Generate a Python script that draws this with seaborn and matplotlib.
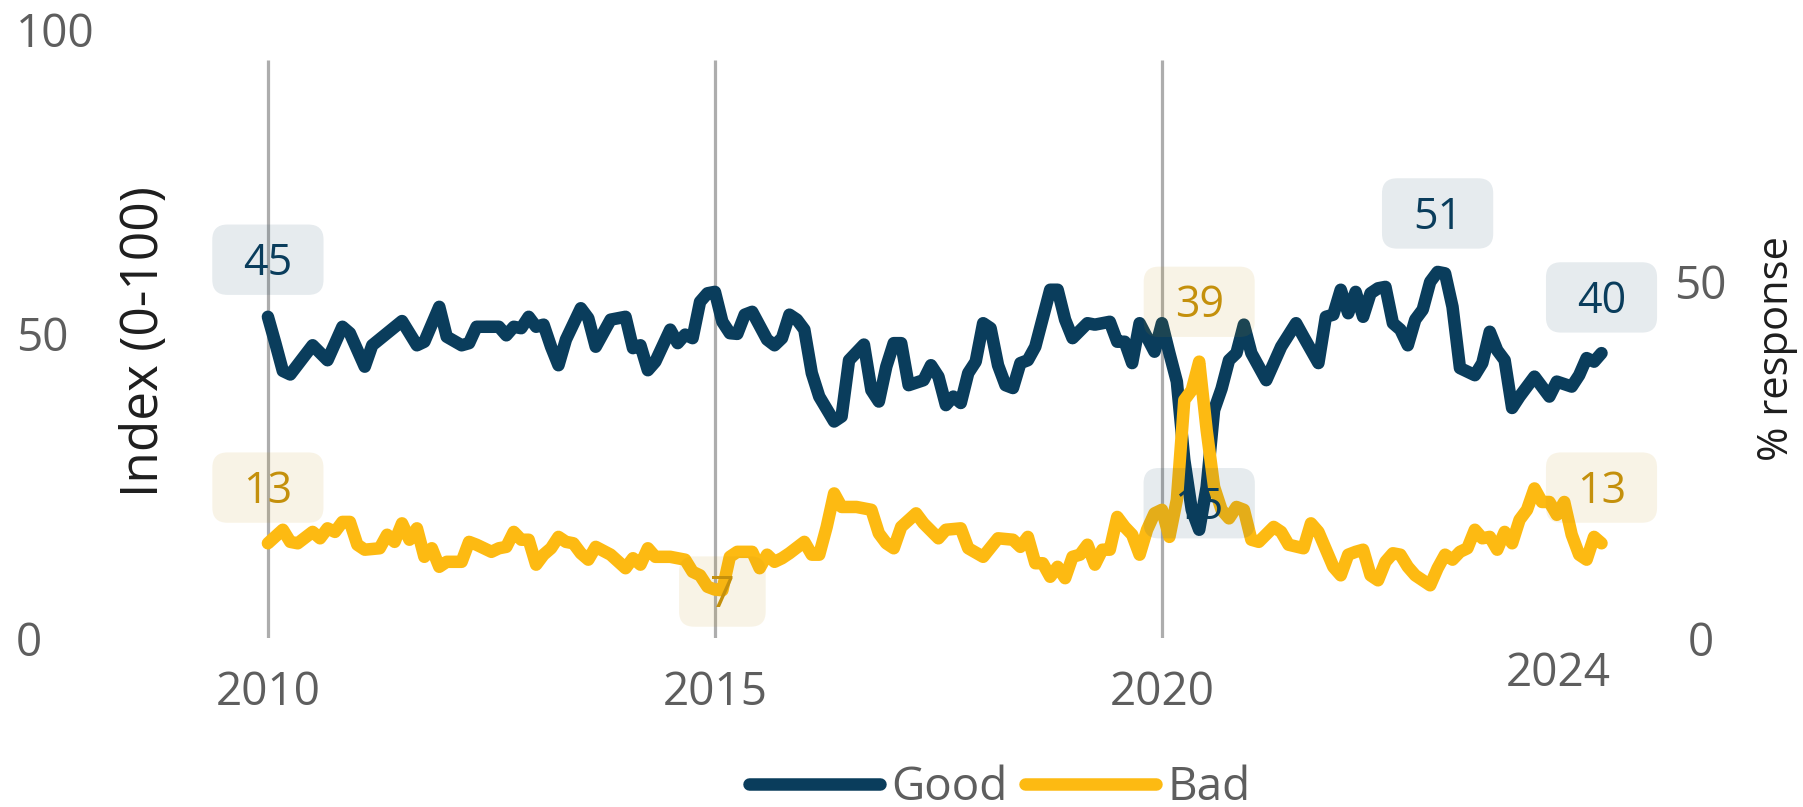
import numpy as np
import pandas as pd
import seaborn as sns
import matplotlib.pyplot as plt
from matplotlib.patches import BoxStyle

# monthly readings, month 0 = January 2010
good_month = [0, 1, 2, 3, 6, 8, 10, 11, 13, 14,
              16, 18, 20, 21, 23, 24, 26, 27, 28, 31,
              32, 33, 34, 35, 36, 37, 38, 39, 40, 42,
              43, 44, 46, 48, 49, 50, 51, 52, 54, 55,
              56, 57, 58, 59, 60, 61, 62, 63, 64, 65,
              67, 68, 69, 70, 71, 72, 73, 74, 76, 77,
              78, 80, 81, 82, 83, 84, 85, 86, 88, 89,
              90, 91, 92, 93, 94, 95, 96, 97, 98, 99,
              100, 101, 102, 103, 105, 106, 107, 108, 110, 111,
              113, 114, 115, 116, 117, 119, 120, 121, 122, 123,
              124, 125, 126, 127, 128, 129, 130, 131, 132, 134,
              136, 138, 139, 141, 142, 143, 144, 145, 146, 147,
              148, 149, 150, 151, 152, 153, 154, 155, 156, 157,
              158, 159, 160, 162, 163, 164, 165, 166, 167, 168,
              170, 172, 173, 175, 176, 177, 178, 179]
good_value = [45.1, 41.4, 37.5, 37.0, 41.1, 39.0, 43.7, 42.8, 38.1, 41.1,
              42.8, 44.5, 41.1, 41.6, 46.5, 42.3, 41.1, 41.4, 43.7, 43.7,
              42.5, 43.7, 43.5, 45.1, 43.7, 44.0, 40.9, 38.3, 41.9, 46.3,
              44.9, 40.9, 44.7, 45.1, 40.7, 41.1, 37.6, 38.8, 43.3, 41.4,
              42.6, 42.1, 47.2, 48.4, 48.6, 44.4, 42.8, 42.7, 45.4, 45.8,
              41.9, 41.1, 42.1, 45.4, 44.7, 43.3, 37.2, 33.9, 30.4, 31.1,
              39.0, 41.2, 34.8, 33.2, 38.1, 41.4, 41.4, 35.5, 36.2, 38.3,
              36.7, 32.7, 33.9, 33.0, 37.2, 38.8, 44.2, 43.5, 38.3, 35.5,
              35.1, 38.6, 39.0, 40.9, 48.9, 48.9, 44.7, 42.1, 44.2, 44.0,
              44.4, 41.6, 41.6, 38.6, 44.2, 40.2, 44.2, 40.0, 36.0, 25.0,
              18.0, 15.2, 21.2, 32.0, 35.0, 39.0, 40.0, 44.0, 40.0, 36.2,
              40.9, 44.2, 42.3, 38.6, 45.1, 45.4, 48.9, 45.6, 48.6, 45.1,
              48.4, 49.1, 49.3, 44.2, 43.3, 41.1, 44.7, 46.1, 50.0, 51.4,
              51.2, 46.5, 37.9, 36.9, 38.6, 43.0, 40.4, 39.0, 32.3, 33.9,
              36.7, 33.9, 36.0, 35.3, 36.9, 39.3, 38.8, 40.0]

bad_month = [0, 2, 3, 4, 6, 7, 8, 9, 10, 11,
             12, 13, 15, 16, 17, 18, 19, 20, 21, 22,
             23, 24, 26, 27, 28, 30, 31, 32, 33, 34,
             35, 36, 37, 38, 39, 40, 41, 42, 43, 44,
             46, 48, 49, 50, 51, 52, 54, 56, 57, 58,
             59, 60, 61, 62, 63, 65, 66, 67, 68, 69,
             70, 72, 73, 74, 75, 76, 77, 79, 81, 82,
             83, 84, 85, 87, 88, 90, 91, 93, 94, 96,
             98, 100, 101, 102, 103, 104, 105, 106, 107, 108,
             109, 110, 111, 112, 113, 114, 115, 116, 117, 118,
             119, 120, 121, 122, 123, 124, 125, 126, 127, 128,
             129, 130, 131, 132, 133, 135, 136, 137, 139, 140,
             141, 143, 144, 145, 146, 147, 148, 149, 150, 151,
             152, 153, 154, 156, 157, 158, 159, 160, 161, 162,
             163, 164, 165, 166, 167, 168, 169, 170, 171, 172,
             173, 174, 175, 176, 177, 178, 179]
bad_value = [13.3, 15.2, 13.5, 13.3, 14.9, 14.0, 15.4, 14.9, 16.3, 16.3,
             13.1, 12.4, 12.6, 14.5, 13.5, 16.1, 13.8, 15.4, 11.4, 12.6,
             10.0, 10.7, 10.7, 13.5, 13.1, 12.1, 12.6, 12.8, 14.9, 13.8,
             13.8, 10.3, 11.7, 12.6, 14.2, 13.5, 13.3, 11.9, 11.0, 12.8,
             11.7, 9.8, 11.2, 10.3, 12.6, 11.4, 11.4, 11.0, 9.3, 8.8,
             7.2, 6.8, 6.7, 11.4, 12.1, 12.1, 9.8, 11.7, 10.7, 11.2,
             11.9, 13.5, 11.7, 11.7, 15.6, 20.3, 18.4, 18.4, 18.0, 14.7,
             13.3, 12.6, 15.6, 17.5, 16.1, 14.0, 15.2, 15.4, 12.6, 11.4,
             14.0, 13.8, 12.8, 14.2, 10.5, 10.5, 8.6, 10.0, 8.4, 11.4,
             11.7, 13.1, 10.3, 12.4, 12.4, 17.0, 15.6, 14.5, 11.7, 15.2,
             17.5, 18.0, 14.2, 19.4, 33.4, 34.8, 38.8, 29.2, 21.2, 18.0,
             16.8, 18.4, 18.0, 13.8, 13.5, 15.6, 14.9, 13.1, 12.6, 16.1,
             14.9, 10.0, 8.8, 11.7, 12.1, 12.4, 8.8, 8.1, 10.7, 11.9,
             11.7, 10.0, 8.8, 7.4, 9.8, 11.7, 11.0, 12.1, 12.6, 15.2,
             14.0, 14.2, 12.4, 14.9, 13.3, 16.6, 18.0, 21.0, 19.1, 19.1,
             17.3, 19.1, 14.5, 11.7, 11.0, 14.2, 13.3]

series_names = ["Good", "Bad"]
year_ticks = [2010, 2015, 2020]
last_tick = 2024.43
left_ticks = [0, 50, 100]
right_ticks = [0, 50]

navy = "#0A3D5C"
yellow = "#FDBA12"
gold_text = "#C4900C"
gray = "#5E5E5E"

df = pd.concat([
    pd.DataFrame({"year": 2010 + np.array(good_month) / 12, "value": good_value, "series": "Good"}),
    pd.DataFrame({"year": 2010 + np.array(bad_month) / 12, "value": bad_value, "series": "Bad"}),
], ignore_index=True)

sns.set_theme(style="white")
plt.rcParams["font.family"] = ["Open Sans", "DejaVu Sans"]


class PaddedRound:
    # rounded box with separate horizontal / vertical padding (in font-size units)
    def __init__(self, padx, pad_top, pad_bottom, radius):
        self.padx, self.pad_top, self.pad_bottom, self.radius = padx, pad_top, pad_bottom, radius

    def __call__(self, x0, y0, width, height, mutation_size):
        px = self.padx * mutation_size
        pt = self.pad_top * mutation_size
        pb = self.pad_bottom * mutation_size
        rnd = BoxStyle.Round(pad=0, rounding_size=self.radius)
        return rnd(x0 - px, y0 - pb, width + 2 * px, height + pt + pb, mutation_size)


fig = plt.figure(figsize=(18.03, 8.07), dpi=100)
ax = fig.add_axes([0.0998, 0.2094, 0.8203, 0.7546])
ax2 = ax.twinx()

sns.lineplot(data=df, x="year", y="value", hue="series", hue_order=series_names,
             palette={"Good": navy, "Bad": yellow}, linewidth=9, errorbar=None,
             solid_capstyle="round", solid_joinstyle="round", ax=ax2)

ax.set_xlim(2009.016, 2025.559)
ax.set_ylim(0, 100)
ax2.set_ylim(0, 85.5)

# vertical reference lines
ax.vlines(year_ticks, 0, 95, color="#ADADAD", lw=2.3, zorder=0)

for a in (ax, ax2):
    for s in a.spines.values():
        s.set_visible(False)
    a.grid(False)

ax.set_xticks(year_ticks, labels=[str(y) for y in year_ticks])
ax.set_xticks([last_tick], labels=["2024"], minor=True)
ax.tick_params(axis="x", which="major", length=0, pad=23, labelsize=33, labelcolor=gray)
ax.tick_params(axis="x", which="minor", length=0, pad=9, labelsize=33, labelcolor=gray)

ax.set_yticks(left_ticks, labels=[str(v) for v in left_ticks])
ax.tick_params(axis="y", length=0, pad=118, labelsize=33, labelcolor=gray)
for lbl in ax.get_yticklabels():
    lbl.set_horizontalalignment("left")

ax2.set_yticks(right_ticks, labels=[str(v) for v in right_ticks])
ax2.tick_params(axis="y", length=0, pad=30, labelsize=33, labelcolor=gray)
for lbl in ax2.get_yticklabels():
    lbl.set_horizontalalignment("center")

ax.set_xlabel("")
ax.set_ylabel("Index (0-100)", fontsize=37, color="#1E1E1E", va="center")
ax.yaxis.set_label_coords(-0.0237, 0.486)
ax2.set_ylabel("% response", fontsize=30, color="#1E1E1E", va="center", rotation=90)
ax2.yaxis.set_label_coords(1.0798, 0.475)

# value callouts at first, min, max and last points
offsets = {"Good": {"first": 38, "min": 16, "max": 39, "last": 37},
           "Bad": {"first": 37, "min": -4, "max": 40, "last": 37}}
label_colors = {"Good": navy, "Bad": gold_text}
for name in series_names:
    sub = df[df["series"] == name].reset_index(drop=True)
    picks = {"first": 0, "min": sub["value"].idxmin(), "max": sub["value"].idxmax(), "last": len(sub) - 1}
    for kind, i in picks.items():
        x, v = sub.loc[i, "year"], sub.loc[i, "value"]
        ax2.annotate(f"{v:.0f}", (x, v), xytext=(0, offsets[name][kind]), textcoords="offset points",
                     ha="center", va="center", fontsize=31, color=label_colors[name], zorder=5,
                     bbox=dict(boxstyle=PaddedRound(0.72, 0.40, 0.20, 0.35),
                               facecolor=label_colors[name], alpha=0.1, edgecolor="none"))

handles, labels = ax2.get_legend_handles_labels()
ax2.get_legend().remove()
fig.legend(handles, labels, loc="center", bbox_to_anchor=(0.5546, 0.024), ncol=2, frameon=False,
           fontsize=33, handlelength=2.86, handletextpad=0.25, columnspacing=0.38, labelcolor=gray)

fig.savefig("out.png", dpi=100)
